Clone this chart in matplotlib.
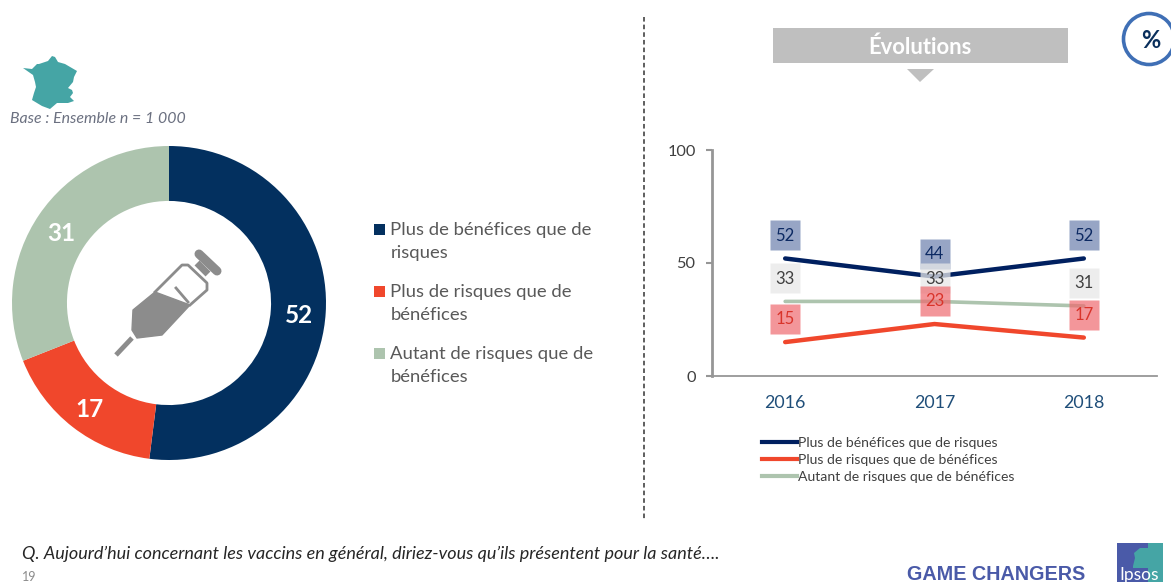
import matplotlib
matplotlib.use("Agg")
import matplotlib.pyplot as plt
from matplotlib.lines import Line2D
from matplotlib.patches import Circle, Polygon, Rectangle
from matplotlib.transforms import ScaledTranslation

plt.rcParams["font.family"] = ["Lato", "DejaVu Sans"]

W, H = 1171, 582

# DATA
DONUT_LABELS = ["Plus de bénéfices que de\nrisques",
                "Plus de risques que de\nbénéfices",
                "Autant de risques que de\nbénéfices"]
DONUT_VALUES = [52, 17, 31]

YEARS = ["2016", "2017", "2018"]
BENEFITS = [52, 44, 52]
RISKS = [15, 23, 17]
EQUAL = [33, 33, 31]
SERIES_NAMES = ["Plus de bénéfices que de risques",
                "Plus de risques que de bénéfices",
                "Autant de risques que de bénéfices"]
Y_TICKS = [0, 50, 100]

# COLOURS
NAVY = "#03305f"
LINE_NAVY = "#002060"
RED = "#f0472c"
GREEN = "#adc4ae"
TEXT = "#595959"
ICON = "#8c8c8c"
LOGO_BLUE = "#4a5aa8"
LOGO_TEAL = "#45a5a5"


def px_axes(fig, left, top, right, bottom):
    return fig.add_axes([left / W, 1 - bottom / H, (right - left) / W, (bottom - top) / H])


fig = plt.figure(figsize=(W / 100, H / 100), dpi=100)

# overlay in pixel coordinates for the slide furniture
bg = fig.add_axes([0, 0, 1, 1])
bg.set_xlim(0, W)
bg.set_ylim(H, 0)
bg.axis("off")

# donut
ax_pie = px_axes(fig, 12, 146, 326, 460)
wedges, _, autotexts = ax_pie.pie(
    DONUT_VALUES, colors=[NAVY, RED, GREEN], startangle=90, counterclock=False, radius=1,
    wedgeprops={"width": 0.35}, autopct=lambda p: f"{p:.0f}", pctdistance=0.83)
for t in autotexts:
    t.set(color="white", fontsize=17.5, fontweight="bold")
    px, py = t.get_position()
    t.set_position((px, py - 0.025))
ax_pie.set_xlim(-1, 1)
ax_pie.set_ylim(-1, 1)

# donut legend
for color, label, y in zip([NAVY, RED, GREEN], DONUT_LABELS, [229, 291, 353]):
    bg.add_patch(Rectangle((374, y - 5), 11, 11, color=color, lw=0))
    bg.text(390.5, y + 12.5, label, color=TEXT, fontsize=13.3, va="center", linespacing=1.53)

# france
france = [(23, 68), (32, 69), (37, 64), (39, 64), (42, 63), (48, 61), (52, 56), (55, 57), (58, 62),
          (65, 64), (77, 71), (74, 77), (73, 82), (68, 88), (72, 90), (73, 93), (70, 97), (74, 101),
          (68, 103), (63, 103), (57, 103), (50, 109), (42, 106), (32, 100), (34, 93), (36, 87),
          (35, 82), (33, 75)]
bg.add_patch(Polygon(france, closed=True, color=LOGO_TEAL, lw=0))
bg.text(10, 119, "Base : Ensemble n = 1 000", color="#6b7080", fontsize=11.4, style="italic", va="center")

# syringe
bg.add_patch(Polygon([(155, 292), (190, 305), (162, 335), (137, 338), (132, 330), (133, 310)],
                     closed=True, fc=ICON, ec=ICON, lw=1, joinstyle="round"))
bg.plot([155, 182, 188, 207, 207, 190], [292, 265, 265, 283, 290, 305], color=ICON, lw=2,
        solid_joinstyle="round")
bg.plot([176, 188], [288, 302], color=ICON, lw=2)
bg.plot([197, 208], [263, 274], color=ICON, lw=5, solid_capstyle="butt")
bg.plot([199, 217], [254, 271], color=ICON, lw=6.5, solid_capstyle="round")
bg.plot([132, 116], [338, 355], color=ICON, lw=3.5, solid_capstyle="butt")

# separator
bg.plot([644, 644], [17, 520], color="#333333", lw=1.1, ls=(0, (3, 2)))

# banner
bg.add_patch(Rectangle((773, 28), 295, 35, color="#bfbfbf", lw=0))
bg.text(920, 47, "Évolutions", color="white", fontsize=15.8, fontweight="bold", ha="center", va="center")
bg.add_patch(Polygon([(907, 69), (934, 69), (920, 82)], closed=True, color="#bfbfbf", lw=0))

# percent badge
bg.add_patch(Circle((1149, 39), 25.5, fc="white", ec="#3f6fb5", lw=2.6))
bg.text(1151, 41, "%", color="#0a2f5c", fontsize=17, fontweight="bold", ha="center", va="center")

# line chart
ax = px_axes(fig, 712, 150, 1157, 376)
x = range(len(YEARS))
for values, color, lw in [(BENEFITS, LINE_NAVY, 3.2), (RISKS, RED, 3.2), (EQUAL, GREEN, 2.6)]:
    ax.plot(x, values, color=color, lw=lw, solid_capstyle="round")
ax.set_xlim(-0.49, 2.49)
ax.set_ylim(0, 100)
ax.set_xticks(list(x), YEARS)
ax.set_yticks(Y_TICKS)
ax.tick_params(axis="x", length=0, pad=14, labelsize=12.8, labelcolor="#1f4e79")
ax.tick_params(axis="y", length=4.3, width=1.5, color="#969696", pad=7.5, labelsize=11.8, labelcolor="#404040")
for side in ["top", "right"]:
    ax.spines[side].set_visible(False)
ax.spines["left"].set_color("#969696")
ax.spines["left"].set_linewidth(2)
ax.spines["bottom"].set_color("#969696")
ax.spines["bottom"].set_linewidth(1.3)
ax.patch.set_alpha(0)

# value boxes, above each point
box_shift = ax.transData + ScaledTranslation(0, 23 / 100, fig.dpi_scale_trans)
for values, fc, tc, alpha in [(BENEFITS, "#5f75a6", "#0d2a63", 0.65),
                              (EQUAL, "#e8e8e8", "#404040", 0.75),
                              (RISKS, "#ee6a6f", "#d9342b", 0.7)]:
    for i, v in enumerate(values):
        ax.plot(i, v, marker="s", ms=21.5, mfc=fc, mec="none", alpha=alpha, transform=box_shift,
                clip_on=False, zorder=4)
        ax.annotate(str(v), (i, v), xytext=(0, 16.5), textcoords="offset points", ha="center",
                    va="center", color=tc, fontsize=12, zorder=5)

handles = [Line2D([], [], color=c, lw=3) for c in [LINE_NAVY, RED, GREEN]]
fig.legend(handles, SERIES_NAMES, loc="upper left", bbox_to_anchor=(762 / W, 1 - 437 / H), frameon=False,
           fontsize=10.1, labelcolor="#404040", handlelength=2.5, handletextpad=0.1, labelspacing=0.36,
           borderpad=0, borderaxespad=0)

# footer
bg.text(22, 554, "Q. Aujourd’hui concernant les vaccins en général, diriez-vous qu’ils présentent pour la santé….",
        color="#262626", fontsize=13, style="italic", va="center")
bg.text(22, 577, "19", color="#8c8c8c", fontsize=9, va="center")
bg.text(907, 574, "GAME CHANGERS", color=LOGO_BLUE, fontsize=14.2, fontweight="bold", family="Liberation Sans", va="center")

# ipsos logo
bg.add_patch(Rectangle((1117, 543), 46, 39, color=LOGO_BLUE, lw=0))
bg.add_patch(Rectangle((1148, 543), 15, 39, color=LOGO_TEAL, lw=0))
bg.add_patch(Polygon([(1133, 566), (1135, 558), (1134, 553), (1140, 548), (1148, 548), (1150, 555),
                      (1149, 562), (1150, 568), (1133, 568)], closed=True, color=LOGO_TEAL, lw=0))
bg.text(1139, 575, "Ipsos", color="white", fontsize=12.5, ha="center", va="center")

fig.savefig("out.png", dpi=100)
